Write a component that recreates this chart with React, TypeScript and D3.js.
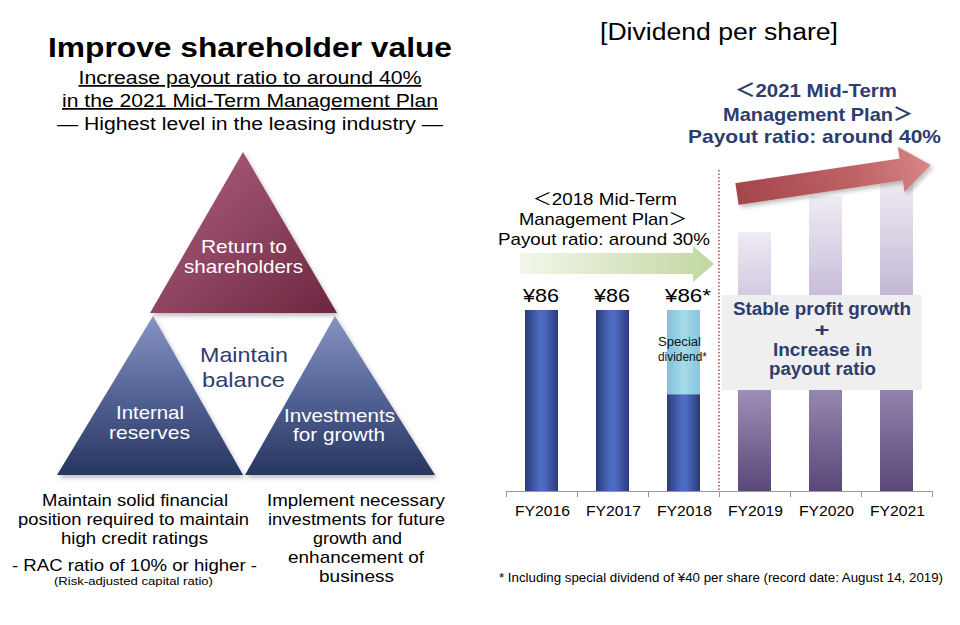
import React from "react";
import * as d3 from "d3";

const categories = ["FY2016", "FY2017", "FY2018", "FY2019", "FY2020", "FY2021"];
const regularDividend = [86, 86, 46, null, null, null];
const specialDividend = [0, 0, 40, 0, 0, 0];
const planBars = [null, null, null, 123, 140, 148];
const valueLabels = ["¥86", "¥86", "¥86*", "", "", ""];

const W = 960;
const H = 625;
const FONT = "'Liberation Sans', Arial, sans-serif";
const CJK = "'Noto Sans CJK JP', 'Liberation Sans', sans-serif";
const NAVY = "#2e3c6e";

type TProps = {
  x: number;
  y: number;
  w?: number;
  size: number;
  fill?: string;
  bold?: boolean;
  anchor?: "start" | "middle" | "end";
  underline?: boolean;
  children: React.ReactNode;
};

function T({ x, y, w, size, fill = "#000", bold, anchor = "middle", underline, children }: TProps) {
  const extra: any = {};
  if (w) {
    extra.textLength = w;
    extra.lengthAdjust = "spacingAndGlyphs";
  }
  return (
    <text
      x={x}
      y={y}
      fontSize={size}
      fill={fill}
      fontWeight={bold ? "bold" : "normal"}
      textAnchor={anchor}
      textDecoration={underline ? "underline" : undefined}
      {...extra}
    >
      {children}
    </text>
  );
}

export default function App() {
  const x = d3.scaleBand<string>().domain(categories).range([506, 932]).padding(0);
  const y = d3.scaleLinear().domain([0, 86]).range([491, 310]);
  const barW = 33;
  const cx = (c: string) => (x(c) as number) + x.bandwidth() / 2;

  const L = 196;
  const redArrow = `M0,-11 L${L - 30},-11 L${L - 30},-23 L${L},0 L${L - 30},23 L${L - 30},11 L0,11 Z`;
  const greenArrow = `M520,253 L693,253 L693,246 L714,264 L693,282 L693,274 L520,274 Z`;

  const tri = (pts: [number, number][]) => pts.map((p) => p.join(",")).join(" ");

  return (
    <svg width={W} height={H} style={{ display: "block", position: "absolute", left: 0, top: 0 }} fontFamily={FONT}>
      <defs>
        <linearGradient id="blueBar" x1="0" x2="1" y1="0" y2="0">
          <stop offset="0" stopColor="#2b3b78" />
          <stop offset="0.45" stopColor="#4e6cc3" />
          <stop offset="0.6" stopColor="#4c69bf" />
          <stop offset="1" stopColor="#2b3b78" />
        </linearGradient>
        <linearGradient id="specBar" x1="0" x2="1" y1="0" y2="0">
          <stop offset="0" stopColor="#7ec2d8" />
          <stop offset="0.5" stopColor="#a6dbe9" />
          <stop offset="1" stopColor="#86c7dc" />
        </linearGradient>
        <linearGradient id="purpleBar" x1="0" x2="0" y1="0" y2="1">
          <stop offset="0" stopColor="#efebf4" />
          <stop offset="0.35" stopColor="#c6bbd7" />
          <stop offset="0.65" stopColor="#9788b2" />
          <stop offset="1" stopColor="#5a4878" />
        </linearGradient>
        <linearGradient id="greenArr" x1="0" x2="1" y1="0" y2="0">
          <stop offset="0" stopColor="#f2f7ea" />
          <stop offset="1" stopColor="#c2d7a2" />
        </linearGradient>
        <linearGradient id="redArr" x1="0" x2="1" y1="0" y2="0">
          <stop offset="0" stopColor="#a4454b" />
          <stop offset="0.6" stopColor="#bf6265" />
          <stop offset="1" stopColor="#d68686" />
        </linearGradient>
        <linearGradient id="topTri" x1="0" x2="1" y1="0" y2="1">
          <stop offset="0" stopColor="#b0607e" />
          <stop offset="0.5" stopColor="#8f4562" />
          <stop offset="1" stopColor="#6c2640" />
        </linearGradient>
        <linearGradient id="botTri" x1="0" x2="0" y1="0" y2="1">
          <stop offset="0" stopColor="#8794c2" />
          <stop offset="0.5" stopColor="#536396" />
          <stop offset="1" stopColor="#27365f" />
        </linearGradient>
        <filter id="shadow" x="-10%" y="-10%" width="130%" height="130%">
          <feDropShadow dx="2" dy="3" stdDeviation="2" floodColor="#000" floodOpacity="0.25" />
        </filter>
      </defs>

      {/* LEFT PANEL */}
      <T x={250} y={57} w={404} size={28} bold>Improve shareholder value</T>
      <T x={250} y={84} w={343} size={17.5} underline>Increase payout ratio to around 40%</T>
      <T x={250} y={107} w={376} size={17.5} underline>in the 2021 Mid-Term Management Plan</T>
      <T x={250} y={130} w={386} size={17.5}>— Highest level in the leasing industry —</T>

      <polygon points={tri([[243, 152], [337, 313], [150, 313]])} fill="url(#topTri)" filter="url(#shadow)" />
      <polygon points={tri([[153, 316], [243, 475], [57, 475]])} fill="url(#botTri)" filter="url(#shadow)" />
      <polygon points={tri([[335, 316], [435, 475], [245, 475]])} fill="url(#botTri)" filter="url(#shadow)" />

      <T x={244} y={253} w={86} size={18.5} fill="#fff">Return to</T>
      <T x={243.5} y={273} w={119} size={18.5} fill="#fff">shareholders</T>
      <T x={150} y={419} w={68} size={18.5} fill="#fff">Internal</T>
      <T x={149.5} y={439} w={81} size={18.5} fill="#fff">reserves</T>
      <T x={339.5} y={422} w={111} size={18.5} fill="#fff">Investments</T>
      <T x={339} y={441} w={92} size={18.5} fill="#fff">for growth</T>
      <T x={244} y={362} w={88} size={21} fill={NAVY}>Maintain</T>
      <T x={243.5} y={387} w={83} size={21} fill={NAVY}>balance</T>

      <T x={135} y={506} w={186} size={17}>Maintain solid financial</T>
      <T x={133.5} y={525} w={231} size={17}>position required to maintain</T>
      <T x={134.5} y={544} w={147} size={17}>high credit ratings</T>
      <T x={134.5} y={571} w={245} size={17}>- RAC ratio of 10% or higher -</T>
      <T x={133.5} y={585} w={159} size={11.5}>(Risk-adjusted capital ratio)</T>
      <T x={356} y={506} w={178} size={17}>Implement necessary</T>
      <T x={356.5} y={525} w={177} size={17}>investments for future</T>
      <T x={357.5} y={544} w={89} size={17}>growth and</T>
      <T x={356} y={563} w={136} size={17}>enhancement of</T>
      <T x={356.5} y={582} w={75} size={17}>business</T>

      {/* RIGHT PANEL */}
      <T x={719} y={40} w={238} size={23}>[Dividend per share]</T>

      <line x1={719} x2={719} y1={170} y2={491} stroke="#b04848" strokeWidth={1.5} strokeDasharray="1.5,2" />

      {categories.map((c, i) =>
        planBars[i] != null ? (
          <rect key={"p" + c} x={cx(c) - barW / 2} y={y(planBars[i] as number)} width={barW} height={y(0) - y(planBars[i] as number)} fill="url(#purpleBar)" />
        ) : null
      )}

      {categories.map((c, i) =>
        regularDividend[i] != null ? (
          <g key={"b" + c}>
            <rect x={cx(c) - barW / 2} y={y(regularDividend[i] as number)} width={barW} height={y(0) - y(regularDividend[i] as number)} fill="url(#blueBar)" />
            {specialDividend[i] > 0 && (
              <rect x={cx(c) - barW / 2} y={y((regularDividend[i] as number) + specialDividend[i])} width={barW} height={y(regularDividend[i] as number) - y((regularDividend[i] as number) + specialDividend[i])} fill="url(#specBar)" />
            )}
            <T x={cx(c) - barW / 2 - 2} y={y((regularDividend[i] as number) + specialDividend[i]) - 8} w={i === 2 ? 46 : 36} size={19} anchor="start">{valueLabels[i]}</T>
          </g>
        ) : null
      )}
      <T x={658} y={346} w={43} size={12} anchor="start" fill="#111">Special</T>
      <T x={658} y={361} w={49} size={12} anchor="start" fill="#111">dividend*</T>

      <line x1={506} x2={932} y1={491.5} y2={491.5} stroke="#999" strokeWidth={1} />
      {[...categories.map((c) => x(c) as number), 932].map((t, i) => (
        <line key={"t" + i} x1={t + 0.5} x2={t + 0.5} y1={491} y2={497} stroke="#999" strokeWidth={1} />
      ))}
      {categories.map((c) => (
        <T key={"l" + c} x={cx(c) + 1} y={516} w={55} size={15.5}>{c}</T>
      ))}

      <path d={greenArrow} fill="url(#greenArr)" />
      <T x={605} y={205} w={144} size={17}><tspan fontFamily={CJK}>＜</tspan>2018 Mid-Term</T>
      <T x={603} y={225} w={168} size={17}>Management Plan<tspan fontFamily={CJK}>＞</tspan></T>
      <T x={604} y={245} w={212} size={17}>Payout ratio: around 30%</T>

      <g transform="translate(737,194) rotate(-8.5)" filter="url(#shadow)">
        <path d={redArrow} fill="url(#redArr)" />
      </g>
      <T x={816} y={97} w={162} size={19} bold fill={NAVY}><tspan fontFamily={CJK}>＜</tspan>2021 Mid-Term</T>
      <T x={818} y={121} w={190} size={19} bold fill={NAVY}>Management Plan<tspan fontFamily={CJK}>＞</tspan></T>
      <T x={814.5} y={143} w={253} size={19} bold fill={NAVY}>Payout ratio: around 40%</T>

      <rect x={722} y={295} width={200} height={95} fill="#efefef" />
      <T x={822} y={315} w={178} size={17.5} bold fill={NAVY}>Stable profit growth</T>
      <T x={822} y={336} w={15} size={19} bold fill={NAVY}>+</T>
      <T x={822.5} y={356} w={99} size={17.5} bold fill={NAVY}>Increase in</T>
      <T x={822.5} y={375} w={107} size={17.5} bold fill={NAVY}>payout ratio</T>

      <T x={721} y={582} w={444} size={13}>* Including special dividend of ¥40 per share (record date: August 14, 2019)</T>
    </svg>
  );
}
